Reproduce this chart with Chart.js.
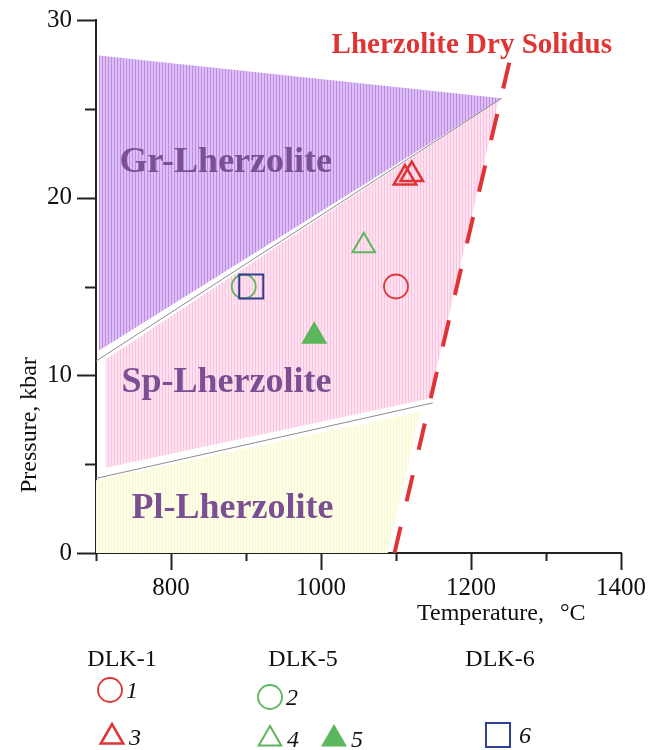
<!DOCTYPE html>
<html>
<head>
<meta charset="utf-8">
<script src="https://cdn.jsdelivr.net/npm/chart.js@4.4.1/dist/chart.umd.min.js"></script>
<style>
  html, body { margin: 0; padding: 0; background: #fff; }
</style>
</head>
<body>
<canvas id="myChart" width="652" height="750"></canvas>
<script>
// stability fields, T in degC and P in kbar
const grT = [704, 1241, 704];
const grP = [28.0, 25.6, 11.4];
const spT = [713, 1237, 1145, 713];
const spP = [10.9, 25.5, 8.7, 4.8];
const plT = [700, 1132, 1089, 700];
const plP = [4.1, 7.95, 0, 0];
const upperT = [700, 1241];
const upperP = [10.8, 25.6];
const lowerT = [700, 1149];
const lowerP = [4.2, 8.45];
const solidusT = [1098, 1251];
const solidusP = [0, 27.6];

// samples
const s1T = [1100], s1P = [15.0];
const s2T = [897], s2P = [15.0];
const s3T = [1112, 1121], s3P = [21.1, 21.3];
const s4T = [1057], s4P = [17.3];
const s5T = [991], s5P = [12.2];
const s6T = [907], s6P = [15.0];

const xTicks = [800, 1000, 1200, 1400];
const yTicks = [0, 10, 20, 30];

const RED = '#e03434', GREEN = '#5cb65c', BLUE = '#2f3f92', PURPLE = '#7a4f93';
const SERIF = '"Liberation Serif", "Times New Roman", serif';

function pts(xs, ys) {
  return xs.map((x, i) => ({x: x, y: ys[i]}));
}

function stripes(dark, light) {
  let c = document.createElement('canvas');
  c.width = 3; c.height = 3;
  let g = c.getContext('2d');
  g.fillStyle = light;
  g.fillRect(0, 0, 3, 3);
  g.fillStyle = dark;
  g.fillRect(0, 0, 1, 3);
  return g.createPattern(c, 'repeat');
}

function area(xs, ys, fill) {
  return {type: 'line', data: pts(xs, ys), fill: 'shape', backgroundColor: fill,
    borderWidth: 0, borderColor: 'rgba(0,0,0,0)', pointRadius: 0, tension: 0};
}
function line(xs, ys, color, width, dash) {
  return {type: 'line', data: pts(xs, ys), fill: false, borderColor: color,
    borderWidth: width, borderDash: dash || [], pointRadius: 0, tension: 0};
}
function marker(xs, ys, style, r, color, filled, bw) {
  return {type: 'scatter', data: pts(xs, ys), pointStyle: style, pointRadius: r,
    borderColor: color, backgroundColor: filled ? color : 'rgba(0,0,0,0)',
    borderWidth: bw, pointBorderWidth: bw};
}

// axis box is fixed by hand, so drop the room Chart.js keeps for edge labels
function fixBox(s, w, h) {
  if (w) s.width = w;
  if (h) s.height = h;
  s.paddingTop = 0; s.paddingBottom = 0; s.paddingLeft = 0; s.paddingRight = 0;
}

// tick marks, labels and legend drawn on top
const extras = {
  id: 'extras',
  afterDraw(chart) {
    const ctx = chart.ctx, xs = chart.scales.x, ys = chart.scales.y;
    const a = chart.chartArea;
    ctx.save();
    ctx.strokeStyle = '#222';
    ctx.lineWidth = 2;
    for (let t = 700; t <= 1400; t += 100) {
      let px = Math.round(xs.getPixelForValue(t)) + 0.5;
      let len = xTicks.includes(t) ? 17 : 8;
      ctx.beginPath(); ctx.moveTo(px, a.bottom); ctx.lineTo(px, a.bottom + len); ctx.stroke();
    }
    for (let p = 0; p <= 30; p += 5) {
      let py = Math.round(ys.getPixelForValue(p)) + 0.5;
      let len = yTicks.includes(p) ? 19 : 11;
      ctx.beginPath(); ctx.moveTo(a.left, py); ctx.lineTo(a.left - len, py); ctx.stroke();
    }

    ctx.textAlign = 'center';
    ctx.textBaseline = 'alphabetic';
    ctx.fillStyle = PURPLE;
    ctx.font = 'bold 36px ' + SERIF;
    ctx.fillText('Gr-Lherzolite', xs.getPixelForValue(873), ys.getPixelForValue(21.45));
    ctx.fillText('Sp-Lherzolite', xs.getPixelForValue(874), ys.getPixelForValue(9.06));
    ctx.fillText('Pl-Lherzolite', xs.getPixelForValue(882), ys.getPixelForValue(1.97));
    ctx.fillStyle = RED;
    ctx.font = 'bold 29px ' + SERIF;
    ctx.fillText('Lherzolite Dry Solidus', xs.getPixelForValue(1201), ys.getPixelForValue(28.14));

    // axis titles
    ctx.fillStyle = '#111';
    ctx.font = '24px ' + SERIF;
    ctx.textAlign = 'left';
    ctx.fillText('Temperature,', 417, 620);
    ctx.fillText('\u00b0C', 560, 620);
    ctx.save();
    ctx.translate(36, 425);
    ctx.rotate(-Math.PI / 2);
    ctx.textAlign = 'center';
    ctx.fillText('Pressure, kbar', 0, 0);
    ctx.restore();

    // legend
    ctx.textAlign = 'center';
    ctx.fillText('DLK-1', 122, 666);
    ctx.fillText('DLK-5', 303, 666);
    ctx.fillText('DLK-6', 500, 666);
    const items = [
      ['circle', 12, RED, false, 1.8, 110, 690, '1'],
      ['circle', 12, GREEN, false, 1.8, 270, 697, '2'],
      ['triangle', 13, RED, false, 2.5, 112, 737, '3'],
      ['triangle', 13, GREEN, false, 2, 270, 739, '4'],
      ['triangle', 13, GREEN, true, 2, 334, 739, '5'],
      ['rect', 17, BLUE, false, 2, 498, 735, '6']
    ];
    ctx.font = 'italic 24px ' + SERIF;
    ctx.textAlign = 'left';
    items.forEach(it => {
      ctx.strokeStyle = it[2];
      ctx.fillStyle = it[3] ? it[2] : 'rgba(0,0,0,0)';
      ctx.lineWidth = it[4];
      Chart.helpers.drawPoint(ctx, {pointStyle: it[0], radius: it[1], borderWidth: it[4], rotation: 0}, it[5], it[6]);
      ctx.fillStyle = '#111';
      ctx.fillText(it[7], it[5] + it[1] + 4, it[6] + 8);
    });
    ctx.restore();
  }
};

// Chart.js paints the first dataset last, so the top layer goes first here
const ctx = document.getElementById('myChart').getContext('2d');
const chart = new Chart(ctx, {
  type: 'scatter',
  data: {
    datasets: [
      line(solidusT, solidusP, RED, 4, [27, 26]),
      marker(s5T, s5P, 'triangle', 13, GREEN, true, 2),
      marker(s4T, s4P, 'triangle', 13, GREEN, false, 2),
      marker(s3T, s3P, 'triangle', 13, RED, false, 2.5),
      marker(s6T, s6P, 'rect', 17, BLUE, false, 2),
      marker(s2T, s2P, 'circle', 12, GREEN, false, 1.8),
      marker(s1T, s1P, 'circle', 12, RED, false, 1.8),
      line(lowerT, lowerP, '#8c8c8c', 1),
      line(upperT, upperP, '#8c8c8c', 1),
      area(plT, plP, stripes('#f8f8d4', '#fefee8')),
      area(spT, spP, stripes('#fbc3df', '#ffe2f0')),
      area(grT, grP, stripes('#c08be6', '#dcc0f3'))
    ]
  },
  options: {
    responsive: false,
    animation: false,
    layout: {padding: {top: 20, right: 31, left: 0, bottom: 0}},
    plugins: {legend: {display: false}, tooltip: {enabled: false}},
    scales: {
      x: {
        type: 'linear', min: 700, max: 1400,
        grid: {display: false, drawTicks: false},
        border: {display: true, color: '#222', width: 2},
        ticks: {
          stepSize: 100, padding: 20, color: '#111', maxRotation: 0, autoSkip: false,
          font: {family: SERIF, size: 25},
          callback: v => xTicks.includes(v) ? String(v) : ''
        },
        afterFit: s => fixBox(s, 0, 197)
      },
      y: {
        type: 'linear', min: 0, max: 30,
        grid: {display: false, drawTicks: false},
        border: {display: true, color: '#222', width: 2},
        ticks: {
          stepSize: 5, padding: 24, color: '#111', autoSkip: false,
          font: {family: SERIF, size: 25},
          callback: v => yTicks.includes(v) ? String(v) : ''
        },
        afterFit: s => fixBox(s, 96, 0)
      }
    }
  },
  plugins: [extras]
});
</script>
</body>
</html>
